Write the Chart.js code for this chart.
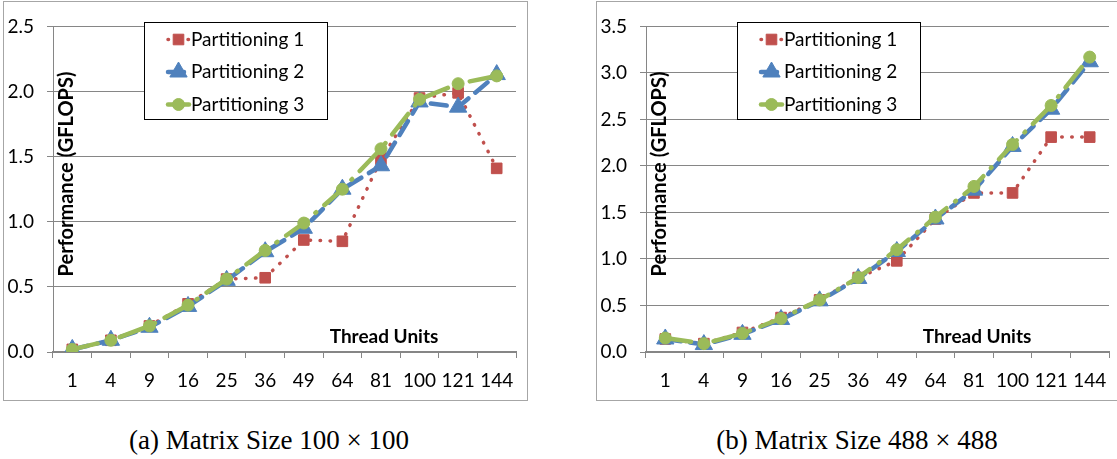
<!DOCTYPE html>
<html>
<head>
<meta charset="utf-8">
<script src="https://cdn.jsdelivr.net/npm/chart.js@4.4.1/dist/chart.umd.min.js"></script>
<style>
  html, body { margin: 0; padding: 0; background: #fff; overflow: hidden; }
  body { width: 1117px; height: 459px; position: relative; }
  .frame { position: absolute; top: 1px; width: 523px; height: 398px; border: 1px solid #a6a6a6; }
  .frame canvas { position: absolute; left: 0; top: 0; }
  .caption { position: absolute; top: 425px; width: 400px; text-align: center;
             font-family: "Liberation Serif", serif; font-size: 27px; color: #000; line-height: 30px; }
</style>
</head>
<body>
<div class="frame" style="left:3px"><canvas id="chartA" width="523" height="398"></canvas></div>
<div class="frame" style="left:596px"><canvas id="chartB" width="523" height="398"></canvas></div>
<div class="caption" style="left:69px">(a) Matrix Size 100 × 100</div>
<div class="caption" style="left:657px">(b) Matrix Size 488 × 488</div>
<script>
// x categories (thread units)
const threadUnits = ['1', '4', '9', '16', '25', '36', '49', '64', '81', '100', '121', '144'];
const seriesNames = ['Partitioning 1', 'Partitioning 2', 'Partitioning 3'];

// (a) matrix 100 x 100, GFLOPS
const perfA1 = [0.02, 0.09, 0.20, 0.37, 0.56, 0.57, 0.86, 0.85, 1.48, 1.95, 1.99, 1.41];
const perfA2 = [0.02, 0.09, 0.19, 0.35, 0.55, 0.77, 0.95, 1.25, 1.43, 1.92, 1.88, 2.13];
const perfA3 = [0.02, 0.09, 0.20, 0.36, 0.56, 0.78, 0.99, 1.25, 1.56, 1.94, 2.06, 2.12];

// (b) matrix 488 x 488, GFLOPS
const perfB1 = [0.14, 0.09, 0.21, 0.37, 0.56, 0.80, 0.98, 1.43, 1.71, 1.71, 2.31, 2.31];
const perfB2 = [0.14, 0.08, 0.19, 0.35, 0.55, 0.79, 1.08, 1.43, 1.74, 2.21, 2.61, 3.12];
const perfB3 = [0.15, 0.09, 0.20, 0.36, 0.56, 0.80, 1.10, 1.45, 1.78, 2.23, 2.65, 3.17];

const yMaxA = 2.5;
const yMaxB = 3.5;
const yStep = 0.5;

const FONT = 'Lato, "Liberation Sans", sans-serif';
const GRID = '#868686';

// legend + in-plot axis titles, the way Excel placed them
const overlay = {
  id: 'overlay',
  afterDraw(chart) {
    const ctx = chart.ctx;
    const x0 = 140, y0 = 20, w = 183, h = 97;
    ctx.save();
    ctx.fillStyle = '#fff';
    ctx.fillRect(x0, y0, w, h);
    ctx.strokeStyle = '#000';
    ctx.lineWidth = 1;
    ctx.strokeRect(x0 + 0.5, y0 + 0.5, w, h);

    chart.data.datasets.forEach((ds, i) => {
      const cy = y0 + 17.5 + i * 32.5;
      ctx.save();
      ctx.strokeStyle = ds.borderColor;
      ctx.lineWidth = ds.borderWidth;
      ctx.lineCap = 'round';
      ctx.setLineDash(ds.borderDash || []);
      ctx.beginPath();
      ctx.moveTo(164, cy);
      ctx.lineTo(185, cy);
      ctx.stroke();
      ctx.restore();
      ctx.fillStyle = ds.borderColor;
      ctx.strokeStyle = ds.borderColor;
      ctx.lineWidth = 1;
      Chart.helpers.drawPoint(ctx, { pointStyle: ds.pointStyle, radius: ds.pointRadius, borderWidth: 1 }, 174.5, cy);
      ctx.fillStyle = '#000';
      ctx.font = '19px ' + FONT;
      ctx.textBaseline = 'middle';
      ctx.textAlign = 'left';
      ctx.fillText(ds.label, 187, cy);
    });

    ctx.fillStyle = '#000';
    ctx.font = 'bold 19px ' + FONT;
    ctx.textAlign = 'center';
    ctx.textBaseline = 'middle';
    ctx.fillText('Thread Units', 380, 335);
    ctx.font = 'bold 20px ' + FONT;
    ctx.translate(63, 172);
    ctx.rotate(-Math.PI / 2);
    ctx.fillText('Performance (GFLOPS)', 0, 0);
    ctx.restore();
  }
};

function makeChart(id, yMax, p1, p2, p3) {
  new Chart(document.getElementById(id).getContext('2d'), {
    type: 'line',
    data: {
      labels: threadUnits,
      datasets: [
        {
          label: seriesNames[0], data: p1, order: 3,
          borderColor: '#C0504D', backgroundColor: '#C0504D',
          borderWidth: 3.5, borderDash: [0.5, 9.5], borderCapStyle: 'round',
          pointStyle: 'rect', pointRadius: 7.5, pointBorderWidth: 1
        },
        {
          label: seriesNames[1], data: p2, order: 2,
          borderColor: '#4F81BD', backgroundColor: '#4F81BD',
          borderWidth: 4.5, borderDash: [16, 9], borderCapStyle: 'round',
          pointStyle: 'triangle', pointRadius: 10, pointBorderWidth: 1
        },
        {
          label: seriesNames[2], data: p3, order: 1,
          borderColor: '#9BBB59', backgroundColor: '#9BBB59',
          borderWidth: 4.5, borderDash: [26, 11, 1, 11], borderCapStyle: 'round',
          pointStyle: 'circle', pointRadius: 6, pointBorderWidth: 1
        }
      ]
    },
    options: {
      responsive: false,
      animation: false,
      devicePixelRatio: 1,
      layout: { padding: { top: 12.7, right: 1, left: 0, bottom: 0 } },
      plugins: { legend: { display: false }, tooltip: { enabled: false } },
      elements: { line: { tension: 0 } },
      scales: {
        x: {
          offset: true,
          grid: { offset: true, drawOnChartArea: false, color: GRID, tickLength: 6 },
          border: { color: GRID, width: 2 },
          ticks: { font: { size: 19, family: FONT }, color: '#000', padding: 11, maxRotation: 0, autoSkip: false },
          afterFit(scale) { scale.height = 48; }
        },
        y: {
          min: 0, max: yMax,
          grid: { color: GRID, lineWidth: 1, tickLength: 6 },
          border: { color: GRID, width: 1 },
          ticks: { stepSize: yStep, font: { size: 19, family: FONT }, color: '#000', padding: 13,
                   callback: v => v.toFixed(1) },
          afterFit(scale) { scale.width = 49; }
        }
      }
    },
    plugins: [overlay]
  });
}

makeChart('chartA', yMaxA, perfA1, perfA2, perfA3);
makeChart('chartB', yMaxB, perfB1, perfB2, perfB3);
</script>
</body>
</html>
